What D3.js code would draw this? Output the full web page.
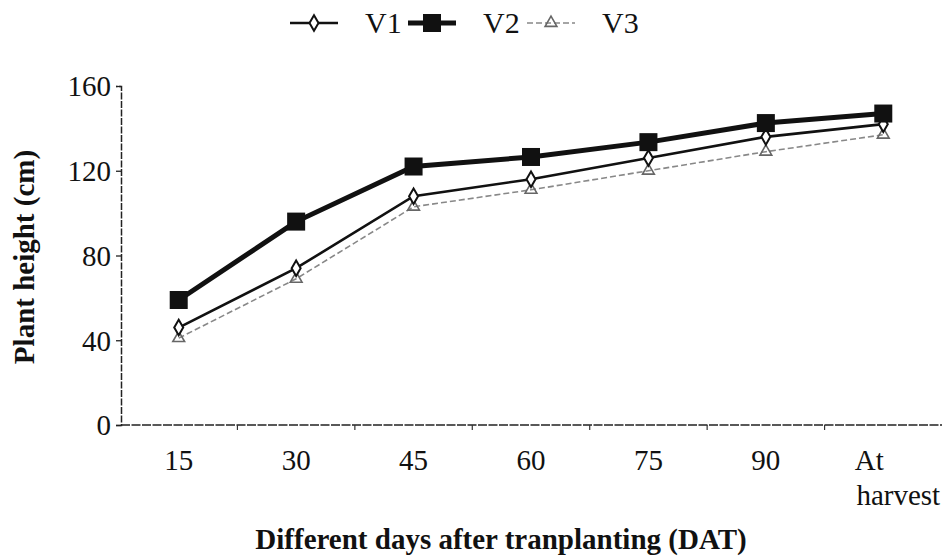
<!DOCTYPE html>
<html>
<head>
<meta charset="utf-8">
<script src="https://cdn.jsdelivr.net/npm/d3@7"></script>
<style>
  body { margin: 0; background: #fff; }
  svg { display: block; }
  text { font-family: "Liberation Serif", "Times New Roman", serif; fill: #111; }
</style>
</head>
<body>
<svg id="chart" width="943" height="558"></svg>
<script>
const categories = ["15", "30", "45", "60", "75", "90", "At harvest"];
const v1 = [46, 74, 108, 116, 126, 136, 142];
const v2 = [59, 96, 122, 126.5, 133.5, 142.5, 147];
const v3 = [41, 69, 103, 111, 120, 129, 137];
const yTicks = [0, 40, 80, 120, 160];
const seriesNames = ["V1", "V2", "V3"];

const series = [
  { name: seriesNames[0], values: v1, stroke: "#111", width: 2.6, dash: null, marker: "diamond" },
  { name: seriesNames[1], values: v2, stroke: "#111", width: 5, dash: null, marker: "square" },
  { name: seriesNames[2], values: v3, stroke: "#888", width: 1.6, dash: "6,3", marker: "triangle" }
];

const svg = d3.select("#chart");
const x = d3.scalePoint().domain(categories).range([120, 942]).padding(0.5);
const y = d3.scaleLinear().domain([0, 160]).range([425, 86]);

// Y axis
const yAxis = svg.append("g").attr("transform", "translate(121,0)")
  .call(d3.axisLeft(y).tickValues(yTicks).tickSize(5).tickPadding(5));
yAxis.select(".domain").attr("stroke", "#222").attr("stroke-width", 1.5).attr("stroke-dasharray", "7,1.5");
yAxis.selectAll(".tick line").attr("stroke", "#222").attr("stroke-width", 1.3);
yAxis.selectAll(".tick text").style("font-size", "29px").attr("fill", "#111").attr("dy", "0.34em");

// X axis line
svg.append("line").attr("x1", 121).attr("x2", 942).attr("y1", 425).attr("y2", 425)
  .attr("stroke", "#222").attr("stroke-width", 1.5).attr("stroke-dasharray", "9,1.5");
// X tick marks at category boundaries
const step = x.step();
svg.append("g").selectAll("line").data(categories.slice(1)).join("line")
  .attr("x1", d => x(d) - step / 2).attr("x2", d => x(d) - step / 2)
  .attr("y1", 425).attr("y2", 430).attr("stroke", "#333").attr("stroke-width", 1.2);

// X labels
const xl = svg.append("g");
categories.forEach(c => {
  const words = c.split(" ");
  const t = xl.append("text").attr("text-anchor", "middle").style("font-size", "29px")
    .attr("x", x(c)).attr("y", 470);
  if (words.length === 1) {
    t.text(c);
  } else {
    t.append("tspan").attr("x", x(c) - 14).attr("y", 470).text(words[0]);
    t.append("tspan").attr("x", x(c) + 15).attr("y", 505).text(words[1]);
  }
});

// Axis titles
svg.append("text").attr("x", 501).attr("y", 549).attr("text-anchor", "middle")
  .style("font-size", "29px").style("font-weight", "bold")
  .text("Different days after tranplanting (DAT)");
svg.append("text").attr("transform", "translate(34,257) rotate(-90)").attr("text-anchor", "middle")
  .style("font-size", "29px").style("font-weight", "bold")
  .text("Plant height (cm)");

// Lines
const line = d3.line().x((d, i) => x(categories[i])).y(d => y(d));
function drawMarker(g, type, cx, cy) {
  if (type === "square") {
    g.append("rect").attr("x", cx - 9).attr("y", cy - 9).attr("width", 18).attr("height", 18)
      .attr("fill", "#111");
  } else if (type === "diamond") {
    g.append("path").attr("d", d3.symbol(d3.symbolDiamond, 70)())
      .attr("transform", `translate(${cx},${cy})`).attr("fill", "#fff").attr("stroke", "#111").attr("stroke-width", 2);
  } else {
    g.append("path").attr("d", d3.symbol(d3.symbolTriangle, 60)())
      .attr("transform", `translate(${cx},${cy})`).attr("fill", "none").attr("stroke", "#666").attr("stroke-width", 1.6);
  }
}
[series[2], series[0], series[1]].forEach(s => {
  svg.append("path").datum(s.values).attr("d", line).attr("fill", "none")
    .attr("stroke", s.stroke).attr("stroke-width", s.width)
    .attr("stroke-dasharray", s.dash);
  const g = svg.append("g");
  s.values.forEach((v, i) => drawMarker(g, s.marker, x(categories[i]), y(v)));
});

// Legend
const legendX = [290, 408, 527];
const lg = svg.append("g");
series.forEach((s, i) => {
  const lx = legendX[i];
  lg.append("line").attr("x1", lx).attr("x2", lx + 48).attr("y1", 23).attr("y2", 23)
    .attr("stroke", s.stroke).attr("stroke-width", s.width).attr("stroke-dasharray", s.dash);
  drawMarker(lg, s.marker, lx + 24, 23);
  lg.append("text").attr("x", lx + 75).attr("y", 33).style("font-size", "30px").text(s.name);
});
</script>
</body>
</html>
